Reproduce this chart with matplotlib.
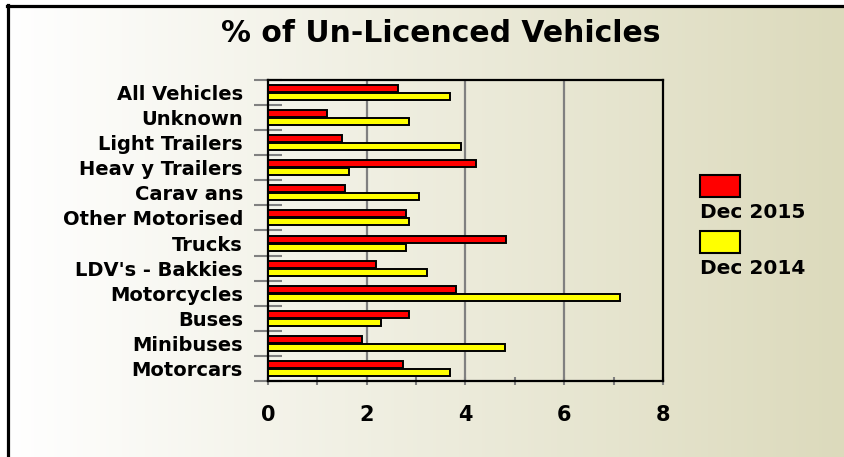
import matplotlib
matplotlib.use('Agg')
import matplotlib.pyplot as plt
import numpy as np
from matplotlib.patches import Rectangle
from matplotlib.lines import Line2D

# data, top to bottom as shown
categories = ['All Vehicles', 'Unknown', 'Light Trailers', 'Heav y Trailers', 'Carav ans',
              'Other Motorised', 'Trucks', "LDV's - Bakkies", 'Motorcycles', 'Buses',
              'Minibuses', 'Motorcars']
dec_2015 = [2.64, 1.19, 1.50, 4.21, 1.55, 2.80, 4.83, 2.18, 3.80, 2.86, 1.91, 2.74]
dec_2014 = [3.68, 2.86, 3.90, 1.65, 3.06, 2.86, 2.79, 3.22, 7.12, 2.28, 4.79, 3.68]
series_names = ['Dec 2015', 'Dec 2014']
series_colors = ['#FF0000', '#FFFF00']

plt.rcParams['font.family'] = 'DejaVu Sans'
plt.rcParams['font.weight'] = 'bold'

W, H = 845, 457
fig = plt.figure(figsize=(W / 100, H / 100), dpi=100)
fig.patch.set_facecolor('white')

# background gradient inside the frame
bg = fig.add_axes([8 / W, 0, 1 - 8 / W, 1 - 6 / H], zorder=-2)
grad = np.linspace(0, 1, 256)
c0 = np.array([255, 255, 255]) / 255
c1 = np.array([220, 218, 188]) / 255
img = c0[None, :] + (c1 - c0)[None, :] * grad[:, None]
bg.imshow(img[None, :, :], aspect='auto', extent=[0, 1, 0, 1])
bg.set_axis_off()

# frame lines (top and left only, picture is cropped)
fig.add_artist(Line2D([7 / W, 1], [1 - 6 / H, 1 - 6 / H], color='black', lw=2.3,
                      transform=fig.transFigure))
fig.add_artist(Line2D([8 / W, 8 / W], [0, 1 - 5 / H], color='black', lw=2.3,
                      transform=fig.transFigure))

ax = fig.add_axes([268 / W, 1 - 381 / H, (663 - 268) / W, (381 - 80) / H])
ax.set_facecolor('none')

n = len(categories)
y = np.arange(n)[::-1]
h = 0.28
off = 0.16
ax.barh(y + off, dec_2015, height=h, color=series_colors[0], edgecolor='black', lw=1.4, zorder=3)
ax.barh(y - off, dec_2014, height=h, color=series_colors[1], edgecolor='black', lw=1.4, zorder=3)

ax.set_xlim(0, 8)
ax.set_ylim(-0.5, n - 0.5)

# x axis
ax.set_xticks(range(0, 9, 2))
ax.set_xticks(range(0, 9), minor=True)
ax.tick_params(axis='x', which='both', direction='inout', length=6, width=1.5,
               color='#808080', labelsize=15, pad=14)
for v in [2, 4, 6]:
    ax.axvline(v, color='#808080', lw=1.6, zorder=1)

# y axis: tick marks on boundaries, labels on centers
ax.set_yticks(np.arange(-0.5, n, 1.0))
ax.set_yticklabels([])
ax.tick_params(axis='y', which='major', direction='inout', length=20, width=1.5, color='#808080')
ax.set_yticks(y, minor=True)
ax.set_yticklabels(categories, minor=True)
ax.tick_params(axis='y', which='minor', length=0, labelsize=14, pad=18)

for s in ax.spines.values():
    s.set_color('black')
    s.set_linewidth(1.6)

for lab in ax.get_xticklabels() + ax.get_yticklabels(minor=True):
    lab.set_fontweight('bold')

fig.text(441 / W, 1 - 34 / H, '% of Un-Licenced Vehicles', ha='center', va='center',
         fontsize=21.5, fontweight='bold')

# legend: box above label
legend_y = [175, 231]
for name, col, ly in zip(series_names, series_colors, legend_y):
    fig.add_artist(Rectangle((700 / W, 1 - (ly + 22) / H), 40 / W, 22 / H,
                             facecolor=col, edgecolor='black', lw=1.5,
                             transform=fig.transFigure))
    fig.text(700 / W, 1 - (ly + 37) / H, name, ha='left', va='center',
             fontsize=14.5, fontweight='bold')

fig.savefig('out.png', dpi=100)
